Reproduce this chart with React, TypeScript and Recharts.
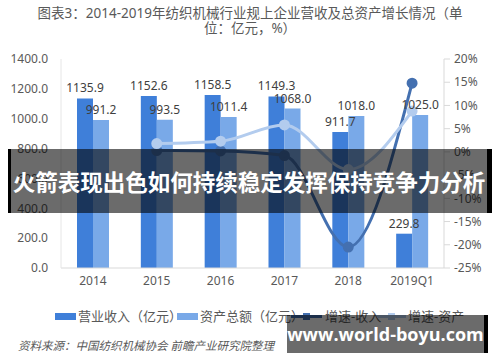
import React from 'react';
import { ComposedChart, Bar, Line, XAxis, YAxis, LabelList } from 'recharts';

const categories = ['2014', '2015', '2016', '2017', '2018', '2019Q1'];
const revenue = [1135.9, 1152.6, 1158.5, 1149.3, 911.7, 229.8];
const assets = [991.2, 993.5, 1011.4, 1068.0, 1018.0, 1025.0];
const revenueGrowth = [null, 0.3, 0.2, -0.8, -20.5, 14.8];
const assetGrowth = [null, 1.8, 2.3, 5.8, -3.8, 8.8];
const leftTicks = [0, 200, 400, 600, 800, 1000, 1200, 1400];
const rightTicks = [-25, -20, -15, -10, -5, 0, 5, 10, 15, 20];

const data = categories.map((c, i) => ({
    name: c,
    revenue: revenue[i],
    assets: assets[i],
    revenueGrowth: revenueGrowth[i],
    assetGrowth: assetGrowth[i],
}));

const DARK_BAR = '#3F7FD9';
const LIGHT_BAR = '#79A9E8';
const DARK_LINE = '#4470B0';
const LIGHT_LINE = '#B3CCEE';
const TEXT = '#595959';
const FONT = '"Noto Sans", "Noto Sans CJK SC", sans-serif';

export default function App() {
    return (
        <div style={{ position: 'absolute', left: 0, top: 0, width: 500, height: 362, background: '#fff', overflow: 'hidden', fontFamily: FONT }}>
            <div style={{ position: 'absolute', left: 0, top: 6, width: 500, textAlign: 'center', color: TEXT, fontSize: 13.5, lineHeight: '15px' }}>
                图表3：2014-2019年纺织机械行业规上企业营收及总资产增长情况（单
                <br />
                位：亿元，%）
            </div>
            <ComposedChart
                width={500}
                height={362}
                data={data}
                margin={{ top: 59, right: 0, left: 0, bottom: 0 }}
                barGap={0}
                style={{ position: 'absolute', left: 0, top: 0, fontFamily: FONT }}
            >
                <XAxis
                    dataKey="name"
                    height={94}
                    tickLine={false}
                    stroke="#D9D9D9"
                    tick={{ fill: TEXT, fontSize: 12 }}
                />
                <YAxis
                    yAxisId="left"
                    width={61}
                    domain={[0, 1400]}
                    ticks={leftTicks}
                    tickFormatter={(v: number) => v.toFixed(1)}
                    tickLine={false}
                    tickMargin={7}
                    stroke="#E6E6E6"
                    tick={{ fill: TEXT, fontSize: 12 }}
                />
                <YAxis
                    yAxisId="right"
                    orientation="right"
                    width={56}
                    domain={[-25, 20]}
                    ticks={rightTicks}
                    tickFormatter={(v: number) => `${v}%`}
                    tickMargin={4}
                    stroke="#D9D9D9"
                    tick={{ fill: TEXT, fontSize: 12 }}
                />
                <Bar yAxisId="left" dataKey="revenue" fill={DARK_BAR} barSize={16} isAnimationActive={false}>
                    <LabelList dataKey="revenue" position="top" offset={6} fill="#404040" fontSize={12} formatter={(v: number) => v.toFixed(1)} />
                </Bar>
                <Bar yAxisId="left" dataKey="assets" fill={LIGHT_BAR} barSize={16} isAnimationActive={false}>
                    <LabelList dataKey="assets" position="top" offset={6} fill="#404040" fontSize={12} formatter={(v: number) => v.toFixed(1)} />
                </Bar>
                <Line
                    yAxisId="right"
                    type="monotone"
                    dataKey="revenueGrowth"
                    stroke={DARK_LINE}
                    strokeWidth={3}
                    dot={{ r: 4, fill: DARK_LINE, stroke: DARK_LINE }}
                    isAnimationActive={false}
                />
                <Line
                    yAxisId="right"
                    type="monotone"
                    dataKey="assetGrowth"
                    stroke={LIGHT_LINE}
                    strokeWidth={3}
                    dot={{ r: 4, fill: LIGHT_LINE, stroke: LIGHT_LINE }}
                    isAnimationActive={false}
                />
            </ComposedChart>

            <div style={{ position: 'absolute', top: 308, left: 0, width: 500, height: 18, color: TEXT, fontSize: 13 }}>
                <div style={{ position: 'absolute', left: 55, top: 5, width: 21, height: 7, background: DARK_BAR }} />
                <div style={{ position: 'absolute', left: 78, top: 0, lineHeight: '17px' }}>营业收入（亿元）</div>
                <div style={{ position: 'absolute', left: 177, top: 5, width: 21, height: 7, background: LIGHT_BAR }} />
                <div style={{ position: 'absolute', left: 200, top: 0, lineHeight: '17px' }}>资产总额（亿元）</div>
                <div style={{ position: 'absolute', left: 291, top: 7, width: 31, height: 3, background: DARK_LINE }} />
                <div style={{ position: 'absolute', left: 303, top: 5, width: 7, height: 7, background: DARK_LINE }} />
                <div style={{ position: 'absolute', left: 325, top: 0, lineHeight: '17px' }}>增速-收入</div>
                <div style={{ position: 'absolute', left: 377, top: 7, width: 29, height: 3, background: LIGHT_LINE }} />
                <div style={{ position: 'absolute', left: 388, top: 5, width: 7, height: 7, background: LIGHT_LINE }} />
                <div style={{ position: 'absolute', left: 408, top: 0, lineHeight: '17px' }}>增速-资产</div>
            </div>
            <div style={{ position: 'absolute', left: 18, top: 337, color: TEXT, fontSize: 11.5, fontStyle: 'italic' }}>
                资料来源：中国纺织机械协会 前瞻产业研究院整理
            </div>

            <div style={{ position: 'absolute', left: 8, top: 149, width: 484, height: 64, boxSizing: 'border-box', background: 'rgba(0,0,0,0.58)', borderLeft: '3px solid #000', borderRight: '5px solid #000', color: '#fff', fontSize: 22.5, fontWeight: 700, lineHeight: '64px', textAlign: 'center', whiteSpace: 'nowrap', fontFamily: '"Noto Sans CJK SC", sans-serif' }}>
                火箭表现出色如何持续稳定发挥保持竞争力分析
            </div>
            <div style={{ position: 'absolute', left: 287, top: 315, width: 201, height: 38, boxSizing: 'border-box', background: 'rgba(0,0,0,0.58)', borderRight: '4px solid #000', color: '#fff', fontSize: 18, fontWeight: 700, lineHeight: '38px', textAlign: 'center', whiteSpace: 'nowrap', fontFamily: '"Open Sans", sans-serif' }}>
                www.world-boyu.com
            </div>
        </div>
    );
}
